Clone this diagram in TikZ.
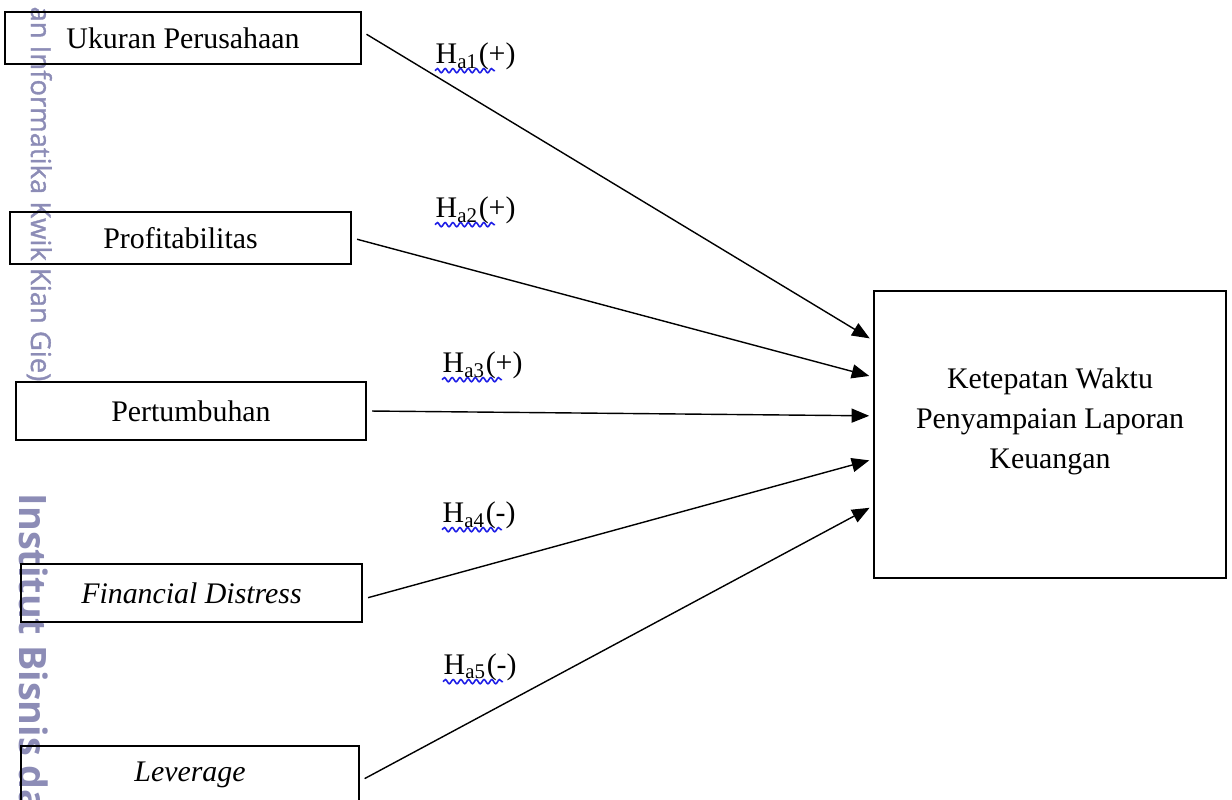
\documentclass[tikz,border=0pt]{standalone}
\usepackage{fontspec}
\setmainfont{Liberation Serif}
\newfontfamily\wmfont{Open Sans}
\newfontfamily\wmthin[FakeBold=1.2]{Open Sans}
\usepackage{xcolor}
\usepackage{tikz}
\usetikzlibrary{arrows.meta,decorations.pathmorphing}
\definecolor{wmgrey}{RGB}{140,140,182}
\definecolor{spellblue}{RGB}{30,30,230}

\begin{document}
\begin{tikzpicture}
  % Define styles
  \tikzstyle{txt} = [font=\fontsize{8.5}{11.4}\selectfont]
  \tikzstyle{var} = [txt, rectangle, draw, line width=0.75pt, inner sep=0pt]
  \tikzstyle{edge} = [-{Triangle[length=5pt,width=4pt]}, line width=0.4pt, shorten >=1pt, shorten <=1.4pt]
  \tikzstyle{hyp} = [txt, anchor=base west, inner sep=0pt]
  \tikzstyle{wavy} = [draw=spellblue, line width=0.45pt, decorate, decoration={snake, amplitude=0.6pt, segment length=2.2pt}]
  \tikzstyle{wmark} = [wmgrey, inner sep=0pt, rotate=-90]

  \useasboundingbox (0,0) rectangle (12.32,8);

  % Watermark
  \node[wmark, anchor=base east, font=\wmthin\fontsize{7.8}{9}\selectfont] (wm1) at (0.31,4.18) {an Informatika Kwik Kian Gie)};
  \node[wmark, anchor=base west, font=\wmfont\bfseries\fontsize{10.75}{12}\selectfont] (wm2) at (0.20,3.07) {Institut Bisnis da};

  % Nodes
  \node[var, minimum width=3.56cm, minimum height=0.52cm] (size) at (1.83,7.62) {Ukuran Perusahaan};
  \node[var, minimum width=3.41cm, minimum height=0.52cm] (prof) at (1.805,5.62) {Profitabilitas};
  \node[var, minimum width=3.50cm, minimum height=0.58cm] (growth) at (1.91,3.89) {Pertumbuhan};
  \node[var, minimum width=3.41cm, minimum height=0.58cm] (distress) at (1.915,2.07) {\itshape Financial Distress};
  \node[var, minimum width=3.38cm, minimum height=0.58cm] (leverage) at (1.90,0.25) {\itshape Leverage};
  \node[var, minimum width=3.52cm, minimum height=2.87cm] (goal) at (10.50,3.655) {};
  \node[txt, align=center, inner sep=0pt] (goaltext) at ([yshift=1.35mm]goal.center) {Ketepatan Waktu\\Penyampaian Laporan\\Keuangan};

  % Hypothesis labels
  \node[hyp] (ha1) at (4.35,7.36) {H\textsubscript{a1}(+)};
  \node[hyp] (ha2) at (4.35,5.82) {H\textsubscript{a2}(+)};
  \node[hyp] (ha3) at (4.42,4.27) {H\textsubscript{a3}(+)};
  \node[hyp] (ha4) at (4.42,2.77) {H\textsubscript{a4}(-)};
  \node[hyp] (ha5) at (4.43,1.25) {H\textsubscript{a5}(-)};
  \foreach \h in {ha1,ha2,ha3,ha4,ha5}
    \draw[wavy] ([yshift=-1.9pt]\h.base west) -- ++(0.60,0);

  % Edges
  \draw[edge] (size.2) -- (goal.152.5);
  \draw[edge] (prof.east) -- (goal.162.2);
  \draw[edge] (growth.east) -- (goal.174.6);
  \draw[edge] (distress.-2) -- (goal.188.2);
  \draw[edge] (leverage.-2) -- (goal.202.4);
\end{tikzpicture}
\end{document}
